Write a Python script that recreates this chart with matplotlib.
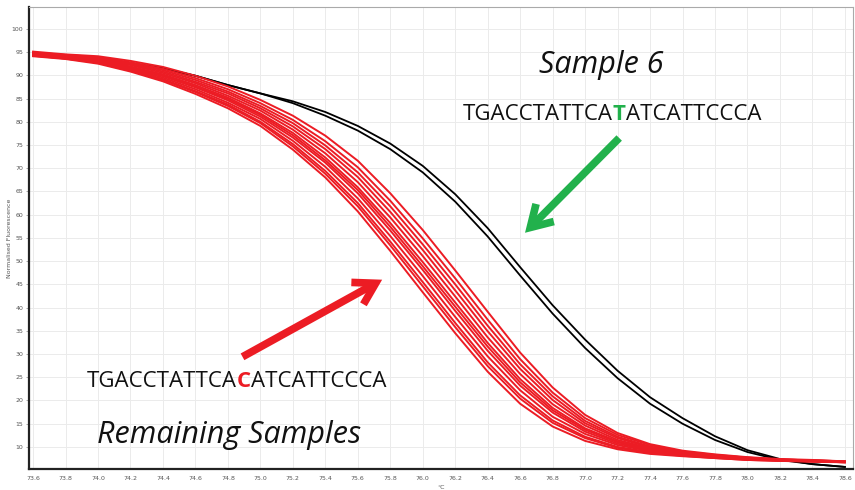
import matplotlib
matplotlib.use("Agg")
import matplotlib.pyplot as plt

# ---------------- data ----------------
temps = [73.6, 73.8, 74.0, 74.2, 74.4, 74.6, 74.8, 75.0, 75.2, 75.4, 75.6, 75.8, 76.0,
         76.2, 76.4, 76.6, 76.8, 77.0, 77.2, 77.4, 77.6, 77.8, 78.0, 78.2, 78.4, 78.6]

# Sample 6 (black) melt curves
sample6_a = [94.8, 94.2, 93.5, 92.6, 91.5, 89.9, 87.9, 86.1, 84.4, 82.1, 79.1, 75.3, 70.5,
             64.4, 57.1, 48.7, 40.5, 33.1, 26.4, 20.7, 16.2, 12.3, 9.3, 7.4, 6.3, 5.7]
sample6_b = [94.8, 94.2, 93.5, 92.6, 91.5, 89.9, 87.9, 86.1, 84.0, 81.3, 78.1, 74.1, 69.1,
             62.8, 55.3, 46.9, 38.7, 31.3, 24.8, 19.3, 15.0, 11.5, 8.9, 7.2, 6.3, 5.7]

# Remaining samples (red) melt curves
rem_01 = [94.1, 93.5, 92.5, 90.8, 88.7, 86.0, 82.9, 79.1, 74.0, 68.0, 60.7, 52.2, 43.3,
          34.5, 26.2, 19.3, 14.4, 11.3, 9.5, 8.5, 8.0, 7.6, 7.2, 7.0, 6.8, 6.7]
rem_02 = [94.2, 93.6, 92.7, 91.0, 89.0, 86.4, 83.4, 79.7, 74.7, 68.8, 61.8, 53.4, 44.6,
          35.8, 27.4, 20.4, 15.2, 11.9, 9.8, 8.7, 8.1, 7.6, 7.2, 7.0, 6.9, 6.7]
rem_03 = [94.3, 93.6, 92.8, 91.2, 89.2, 86.6, 83.7, 80.0, 75.2, 69.4, 62.5, 54.2, 45.5,
          36.7, 28.2, 21.1, 15.7, 12.2, 10.0, 8.9, 8.2, 7.7, 7.3, 7.1, 6.9, 6.7]
rem_04 = [94.4, 93.7, 92.9, 91.4, 89.5, 87.0, 84.1, 80.6, 75.9, 70.3, 63.5, 55.4, 46.8,
          38.0, 29.5, 22.2, 16.5, 12.8, 10.4, 9.1, 8.3, 7.8, 7.3, 7.1, 6.9, 6.7]
rem_05 = [94.5, 93.8, 93.1, 91.6, 89.8, 87.4, 84.6, 81.1, 76.6, 71.2, 64.6, 56.6, 48.1,
          39.3, 30.7, 23.2, 17.4, 13.3, 10.7, 9.3, 8.4, 7.9, 7.4, 7.1, 7.0, 6.8]
rem_06 = [94.5, 93.9, 93.2, 91.8, 90.0, 87.6, 84.9, 81.5, 77.1, 71.7, 65.3, 57.4, 48.9,
          40.2, 31.6, 23.9, 17.9, 13.7, 11.0, 9.4, 8.5, 7.9, 7.4, 7.2, 7.0, 6.8]
rem_07 = [94.6, 94.0, 93.3, 91.9, 90.2, 87.9, 85.2, 81.8, 77.6, 72.3, 65.9, 58.2, 49.8,
          41.1, 32.4, 24.6, 18.4, 14.0, 11.2, 9.5, 8.6, 8.0, 7.5, 7.2, 7.0, 6.8]
rem_08 = [94.7, 94.1, 93.4, 92.2, 90.5, 88.3, 85.6, 82.4, 78.3, 73.2, 67.0, 59.4, 51.1,
          42.4, 33.6, 25.7, 19.2, 14.6, 11.5, 9.7, 8.7, 8.1, 7.5, 7.2, 7.0, 6.8]
rem_09 = [94.8, 94.2, 93.6, 92.4, 90.8, 88.6, 86.1, 82.9, 79.0, 74.1, 68.1, 60.6, 52.4,
          43.7, 34.9, 26.8, 20.1, 15.1, 11.9, 9.9, 8.8, 8.1, 7.6, 7.3, 7.1, 6.8]
rem_10 = [94.8, 94.3, 93.7, 92.6, 91.1, 89.0, 86.5, 83.4, 79.7, 74.9, 69.1, 61.8, 53.6,
          45.0, 36.1, 27.8, 20.9, 15.6, 12.2, 10.1, 8.9, 8.2, 7.7, 7.3, 7.1, 6.9]
rem_11 = [94.9, 94.4, 93.9, 92.8, 91.4, 89.4, 87.0, 84.0, 80.4, 75.8, 70.2, 63.0, 54.9,
          46.3, 37.4, 28.9, 21.7, 16.2, 12.6, 10.4, 9.0, 8.3, 7.7, 7.3, 7.1, 6.9]
rem_12 = [95.1, 94.5, 94.1, 93.1, 91.8, 89.9, 87.6, 84.7, 81.3, 77.0, 71.6, 64.6, 56.7,
          48.0, 39.1, 30.3, 22.8, 16.9, 13.0, 10.6, 9.2, 8.4, 7.8, 7.4, 7.2, 6.9]

remaining = [rem_01, rem_02, rem_03, rem_04, rem_05, rem_06,
             rem_07, rem_08, rem_09, rem_10, rem_11, rem_12]

x_ticks = [73.6, 73.8, 74.0, 74.2, 74.4, 74.6, 74.8, 75.0, 75.2, 75.4, 75.6, 75.8, 76.0,
           76.2, 76.4, 76.6, 76.8, 77.0, 77.2, 77.4, 77.6, 77.8, 78.0, 78.2, 78.4, 78.6]
y_ticks = [10, 15, 20, 25, 30, 35, 40, 45, 50, 55, 60, 65, 70, 75, 80, 85, 90, 95, 100]

seq_prefix = "TGACCTATTCA"
seq_suffix = "ATCATTCCCA"
sample6_base = "T"
remaining_base = "C"

RED = "#ec1c24"
GREEN = "#22b14c"
FONT = "Open Sans"

# ---------------- figure ----------------
fig = plt.figure(figsize=(8.55, 4.90), dpi=100)
ax = fig.add_axes([29 / 855, 1 - 469 / 490, (853 - 29) / 855, (469 - 7) / 490])

ax.set_xlim(73.575, 78.65)
ax.set_ylim(5.25, 104.7)

ax.set_xticks(x_ticks)
ax.set_xticklabels([f"{v:.1f}" for v in x_ticks])
ax.set_yticks(y_ticks)
ax.set_yticklabels([str(v) for v in y_ticks])
ax.tick_params(axis="both", labelsize=4.5, labelcolor="#555555", colors="#888888",
               length=2, width=0.5, pad=2)
ax.tick_params(axis="x", length=0, pad=5)
ax.grid(True, color="#ebebeb", linewidth=0.7)
ax.set_axisbelow(True)

for side in ("left", "bottom"):
    ax.spines[side].set_color("#222222")
    ax.spines[side].set_linewidth(1.6)
for side in ("top", "right"):
    ax.spines[side].set_color("#aaaaaa")
    ax.spines[side].set_linewidth(0.8)

ax.set_ylabel("Normalised Fluorescence", fontsize=4.5, color="#555555")
ax.yaxis.set_label_coords(-0.021, 0.5)
ax.set_xlabel("°C", fontsize=4.5, color="#555555")
ax.xaxis.set_label_coords(0.50, -0.034)

# curves
for ys in (sample6_a, sample6_b):
    ax.plot(temps, ys, color="black", linewidth=1.3, solid_joinstyle="round")
for ys in remaining:
    ax.plot(temps, ys, color=RED, linewidth=1.4, solid_joinstyle="round")

# arrows
arrow_style = "->,head_length=1.5,head_width=0.9"
ax.annotate("", xy=(75.75, 46.0), xytext=(74.89, 29.4),
            arrowprops=dict(arrowstyle=arrow_style, color=RED, lw=5.5,
                            shrinkA=0, shrinkB=0, capstyle="butt", joinstyle="miter"))
ax.annotate("", xy=(76.63, 56.1), xytext=(77.21, 76.5),
            arrowprops=dict(arrowstyle=arrow_style, color=GREEN, lw=5.5,
                            shrinkA=0, shrinkB=0, capstyle="butt", joinstyle="miter"))

# texts
ax.text(77.10, 92.2, "Sample 6", fontsize=22, style="italic", family=FONT,
        ha="center", va="center", color="#111111")
ax.text(74.81, 12.6, "Remaining Samples", fontsize=22, style="italic", family=FONT,
        ha="center", va="center", color="#111111")


def sequence(x, y, base, color):
    t1 = ax.text(x, y, seq_prefix, fontsize=16, family=FONT, ha="left",
                 va="center", color="#111111")
    t2 = ax.annotate(base, xy=(1, 0), xycoords=t1, fontsize=16, family=FONT,
                     fontweight="bold", color=color, ha="left", va="bottom")
    ax.annotate(seq_suffix, xy=(1, 0), xycoords=t2, fontsize=16, family=FONT,
                color="#111111", ha="left", va="bottom")


sequence(76.246, 81.5, sample6_base, GREEN)
sequence(73.93, 24.0, remaining_base, RED)

fig.savefig("out.png", dpi=100)
